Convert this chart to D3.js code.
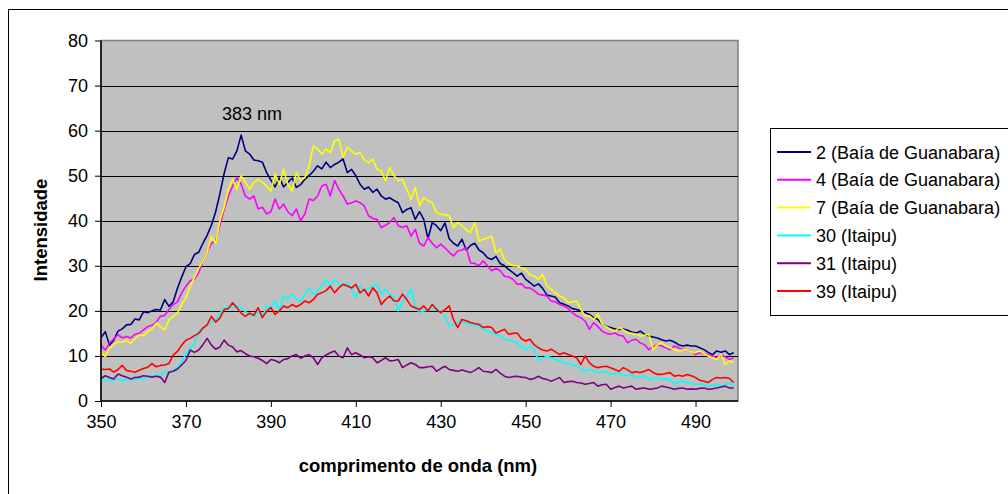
<!DOCTYPE html>
<html>
<head>
<meta charset="utf-8">
<script src="https://cdn.jsdelivr.net/npm/d3@7"></script>
<style>
  body { margin: 0; background: #fff; }
  svg { display: block; font-family: Arial, "Liberation Sans", sans-serif; }
</style>
</head>
<body>
<svg id="chart" width="1008" height="494"></svg>
<script>
// wavelength (nm), one reading per nm
var wavelengths = d3.range(350, 500);

var s2 = [14.0,15.4,12.4,13.5,15.5,16.0,16.9,17.0,18.2,18.0,19.8,19.6,20.0,20.3,20.2,22.5,21.0,22.0,25.0,27.5,
  29.8,30.5,32.5,33.0,35.0,36.8,39.0,42.0,46.0,50.5,54.0,53.7,55.5,59.0,55.5,54.8,53.5,53.3,53.0,50.7,
  49.0,47.5,49.5,47.5,48.5,49.5,47.4,48.0,49.2,50.0,51.0,52.2,51.5,53.0,51.8,52.5,53.0,53.7,50.7,51.4,
  50.0,48.1,47.0,47.5,46.3,47.0,45.5,44.8,45.1,44.5,44.0,41.8,42.5,42.9,40.3,42.0,40.3,36.0,39.6,38.9,
  37.8,39.5,36.0,35.0,34.4,35.9,33.5,34.5,35.0,33.5,32.9,31.8,31.4,32.1,30.5,30.0,29.2,28.5,27.7,28.4,
  27.0,26.3,25.5,26.0,25.0,23.5,23.3,23.0,21.8,21.5,21.1,20.5,20.3,20.0,19.6,19.2,18.5,18.1,17.0,16.6,
  16.3,16.0,15.9,16.0,15.7,15.3,15.1,15.5,14.8,14.4,14.2,14.0,13.6,13.3,13.5,13.1,12.5,12.2,12.4,12.2,
  12.2,11.8,11.4,10.8,10.3,11.1,10.8,11.1,10.3,10.7];

var s4 = [12.4,11.3,12.8,13.8,14.7,14.0,14.3,14.0,14.8,15.0,15.8,16.5,16.8,17.5,18.8,19.0,20.3,21.4,22.0,24.0,
  25.5,26.7,27.0,28.5,31.0,33.0,35.0,35.5,39.0,42.5,45.5,47.7,49.6,48.1,45.5,44.8,45.5,42.6,43.0,41.5,
  42.0,44.8,42.6,43.7,42.0,41.1,42.6,40.0,41.5,44.8,44.5,45.5,47.7,48.1,45.5,48.9,47.0,45.5,43.7,44.0,
  44.4,44.0,43.3,41.1,40.5,40.3,38.5,39.0,39.6,40.7,38.9,38.5,38.9,36.6,38.1,35.0,34.4,36.3,35.0,34.0,
  34.8,34.0,33.0,32.2,33.3,33.5,34.0,30.7,30.5,30.0,31.1,30.0,28.9,29.5,28.9,27.7,27.5,27.0,25.9,26.0,
  25.1,25.1,24.5,23.7,23.5,23.3,22.2,22.0,21.4,21.1,20.5,19.6,18.9,18.5,17.7,15.9,17.4,16.5,15.5,15.0,
  14.8,15.1,14.6,14.4,12.9,13.5,13.7,12.9,12.5,11.4,12.0,12.5,12.2,11.8,11.4,12.2,11.8,11.4,11.4,11.0,
  10.3,10.7,10.5,10.3,10.0,9.6,10.3,9.8,9.2,9.6];

var s7 = [10.9,9.8,11.7,12.5,13.2,13.0,13.5,12.8,13.8,14.7,14.5,15.4,16.0,17.3,16.5,15.8,18.0,18.8,19.5,21.5,
  22.9,25.5,27.4,29.5,31.0,33.0,36.5,35.0,40.1,43.0,47.0,49.2,47.0,50.0,48.5,47.0,48.5,49.2,48.5,47.7,
  46.6,50.3,48.1,51.4,48.0,46.6,50.7,48.9,49.6,52.2,56.6,55.9,54.8,55.9,55.1,57.7,58.1,54.1,56.3,55.5,
  54.8,55.1,53.5,52.9,53.7,51.4,51.1,48.9,51.8,50.0,48.9,49.2,47.0,44.8,47.4,43.3,45.1,44.5,44.0,41.8,
  41.5,41.3,41.1,38.5,39.6,38.9,38.0,37.4,39.6,35.5,35.9,36.2,36.6,32.9,33.7,31.4,30.5,30.0,30.0,29.5,
  29.2,28.0,27.7,27.0,28.1,25.5,24.8,24.0,23.3,22.9,21.8,22.0,22.2,20.3,18.9,18.9,18.1,19.2,17.0,16.5,
  15.9,15.5,16.3,15.8,15.1,15.0,14.8,14.4,14.6,14.8,11.4,12.5,12.9,12.2,11.8,11.4,11.1,11.3,11.4,10.9,
  10.7,11.1,10.5,10.0,9.6,9.2,10.3,8.1,8.9,8.5];

var s30 = [4.9,4.5,4.8,4.6,4.9,4.5,4.9,4.7,4.8,5.0,4.9,5.3,5.6,5.5,6.0,6.4,6.3,6.8,7.5,8.6,
  10.5,11.7,12.8,15.5,16.2,16.9,17.5,18.0,19.5,20.5,21.1,20.7,21.0,20.7,19.8,19.2,18.8,20.0,18.5,21.1,
  20.7,22.2,20.3,23.3,22.6,23.7,22.6,22.2,23.7,25.1,23.7,24.5,25.5,27.0,25.5,27.0,26.0,25.5,26.3,24.8,
  22.9,25.5,24.4,25.0,25.5,25.9,23.7,24.8,23.7,23.0,20.0,22.0,23.3,24.8,21.1,19.6,20.0,20.2,20.4,20.7,
  19.5,18.9,16.6,17.0,17.4,17.7,17.3,17.0,16.8,16.6,15.9,15.5,15.1,14.8,14.4,13.7,13.5,13.3,12.9,12.0,
  11.4,12.2,11.5,8.9,9.5,10.0,9.6,9.2,8.9,8.5,8.3,8.1,7.7,7.2,6.6,7.0,6.8,6.3,6.6,6.5,
  5.9,6.1,6.3,5.5,5.7,5.9,5.2,5.4,5.5,4.8,5.0,5.2,4.8,4.9,4.8,3.7,4.4,4.3,4.1,3.9,
  3.7,3.8,3.7,3.3,3.5,3.7,3.3,3.6,4.1,3.3];

var s31 = [5.0,5.6,5.2,4.9,6.0,5.6,5.3,4.9,5.2,5.3,5.6,5.5,5.3,5.5,5.3,4.1,6.4,6.6,7.1,8.0,
  9.0,11.3,10.8,11.3,12.5,13.9,12.4,11.5,12.0,13.5,12.4,12.0,10.9,11.2,10.5,10.0,9.8,9.5,9.0,8.3,
  9.2,9.0,8.5,9.2,9.4,10.0,10.3,9.5,10.0,10.3,9.6,8.1,9.6,10.2,10.7,11.1,10.0,9.6,11.8,10.3,
  10.7,10.2,9.6,9.8,9.6,8.5,9.0,9.6,8.9,9.0,9.2,7.4,8.0,8.5,8.1,7.4,7.4,7.6,7.7,6.6,
  7.2,7.7,7.0,6.8,6.6,6.9,6.6,6.3,6.8,7.4,6.6,6.5,6.3,7.0,6.2,5.5,5.2,5.4,5.5,5.3,
  5.2,4.8,5.0,5.5,5.0,4.8,4.4,4.8,5.2,4.1,4.3,4.4,4.1,4.0,3.7,3.9,4.1,3.3,3.6,3.7,
  2.6,3.0,3.3,2.9,3.1,3.3,2.6,2.8,2.9,2.6,2.7,2.9,3.3,3.1,2.9,2.6,2.8,2.9,2.6,2.7,
  2.6,2.8,2.9,2.6,2.7,2.9,3.1,3.3,2.9,2.9];

var s39 = [7.1,7.0,7.1,6.4,7.0,7.9,6.8,6.6,6.4,6.8,7.2,7.5,8.3,7.6,7.9,8.0,8.3,10.2,11.0,12.4,
  13.5,13.9,14.5,15.0,16.2,16.9,18.8,17.5,18.4,20.3,20.5,21.8,20.7,19.5,18.8,19.5,19.0,20.7,18.5,19.9,
  20.7,19.2,20.0,21.1,20.7,21.4,20.9,21.4,22.2,21.8,22.5,23.7,24.0,24.5,25.5,24.0,25.1,25.9,25.5,25.1,
  25.9,24.0,24.8,23.3,25.1,24.0,21.4,22.5,23.3,22.2,22.2,23.7,22.5,21.1,20.7,20.3,21.1,20.0,21.4,20.3,
  19.6,20.3,21.1,18.1,16.3,18.1,17.8,17.4,17.2,17.0,16.3,16.5,16.3,15.1,15.5,15.9,14.8,15.0,15.1,13.8,
  13.3,13.7,12.5,11.8,11.3,11.1,11.5,10.9,10.3,10.7,10.3,10.0,9.6,8.1,10.0,8.5,7.7,7.4,7.6,7.7,
  7.4,7.0,6.6,7.4,6.9,6.3,6.5,6.3,6.6,7.0,6.3,5.9,5.9,6.1,6.3,5.5,5.7,5.5,5.9,5.6,
  5.2,4.6,4.4,4.1,4.8,5.2,5.1,5.2,5.0,4.1];

var seriesNames = ["2 (Baía de Guanabara)", "4 (Baía de Guanabara)", "7 (Baía de Guanabara)",
  "30 (Itaipu)", "31 (Itaipu)", "39 (Itaipu)"];
var seriesValues = [s2, s4, s7, s30, s31, s39];
var seriesColors = ["#000080", "#FF00FF", "#FFFF00", "#00FFFF", "#800080", "#FF0000"];

var xTicks = [350, 370, 390, 410, 430, 450, 470, 490];
var yTicks = [0, 10, 20, 30, 40, 50, 60, 70, 80];

var svg = d3.select("#chart");

var plot = {left: 101, right: 738, top: 40.5, bottom: 401};

var x = d3.scaleLinear().domain([350, 500]).range([plot.left, plot.right]);
var y = d3.scaleLinear().domain([0, 80]).range([plot.bottom, plot.top]);

// outer chart frame (runs off the right and bottom edge)
svg.append("rect")
    .attr("x", 8.5).attr("y", 9.5)
    .attr("width", 1100).attr("height", 600)
    .attr("fill", "none").attr("stroke", "#000").attr("stroke-width", 1);

// plot area
svg.append("rect")
    .attr("x", plot.left).attr("y", plot.top)
    .attr("width", plot.right - plot.left).attr("height", plot.bottom - plot.top)
    .attr("fill", "#C0C0C0").attr("stroke", "#808080").attr("stroke-width", 1.5);

// gridlines
svg.append("g")
    .selectAll("line")
    .data(yTicks.filter(function (d) { return d > 0 && d < 80; }))
    .enter().append("line")
    .attr("x1", plot.left).attr("x2", plot.right)
    .attr("y1", function (d) { return Math.round(y(d)) + 0.5; })
    .attr("y2", function (d) { return Math.round(y(d)) + 0.5; })
    .attr("stroke", "#000").attr("stroke-width", 1);

// series
var line = d3.line()
    .x(function (d, i) { return x(wavelengths[i]); })
    .y(function (d) { return y(d); });

svg.append("g")
    .attr("clip-path", null)
    .selectAll("path")
    .data(seriesValues)
    .enter().append("path")
    .attr("d", line)
    .attr("fill", "none")
    .attr("stroke", function (d, i) { return seriesColors[i]; })
    .attr("stroke-width", 1.6)
    .attr("stroke-linejoin", "round");

// axes
var xAxis = svg.append("g")
    .attr("transform", "translate(0," + plot.bottom + ")")
    .call(d3.axisBottom(x).tickValues(xTicks).tickSize(6).tickPadding(8).tickFormat(d3.format("d")));
var yAxis = svg.append("g")
    .attr("transform", "translate(" + plot.left + ",0)")
    .call(d3.axisLeft(y).tickValues(yTicks).tickSize(6).tickPadding(7).tickFormat(d3.format("d")));

[xAxis, yAxis].forEach(function (ax) {
    ax.select(".domain").attr("stroke", "#000").attr("stroke-width", 1.5);
    ax.selectAll(".tick line").attr("stroke", "#000");
    ax.selectAll("text")
        .attr("fill", "#000")
        .style("font-size", "18px")
        .style("font-family", "Arial, 'Liberation Sans', sans-serif");
});
xAxis.select(".domain").attr("d", "M" + plot.left + ",0H" + plot.right);
yAxis.select(".domain").attr("d", "M0," + plot.bottom + "V" + plot.top);

// axis titles
svg.append("text")
    .attr("x", 418).attr("y", 472)
    .attr("text-anchor", "middle")
    .style("font-size", "18.5px").style("font-weight", "bold")
    .text("comprimento de onda (nm)");

svg.append("text")
    .attr("transform", "translate(47,230) rotate(-90)")
    .attr("text-anchor", "middle")
    .style("font-size", "18.5px").style("font-weight", "bold")
    .text("Intensidade");

// peak annotation
svg.append("text")
    .attr("x", 252).attr("y", 120)
    .attr("text-anchor", "middle")
    .style("font-size", "18px")
    .text("383 nm");

// legend
var legend = svg.append("g");
legend.append("rect")
    .attr("x", 770.5).attr("y", 128.5)
    .attr("width", 300).attr("height", 187)
    .attr("fill", "#fff").attr("stroke", "#000").attr("stroke-width", 1);

var rowY = d3.scalePoint().domain(seriesNames).range([152, 291]);

var items = legend.selectAll("g.item")
    .data(seriesNames)
    .enter().append("g")
    .attr("class", "item")
    .attr("transform", function (d) { return "translate(0," + rowY(d) + ")"; });

items.append("line")
    .attr("x1", 777).attr("x2", 811)
    .attr("y1", 0).attr("y2", 0)
    .attr("stroke", function (d, i) { return seriesColors[i]; })
    .attr("stroke-width", 2);

items.append("text")
    .attr("x", 816).attr("y", 6.5)
    .style("font-size", "18px")
    .text(function (d) { return d; });
</script>
</body>
</html>
